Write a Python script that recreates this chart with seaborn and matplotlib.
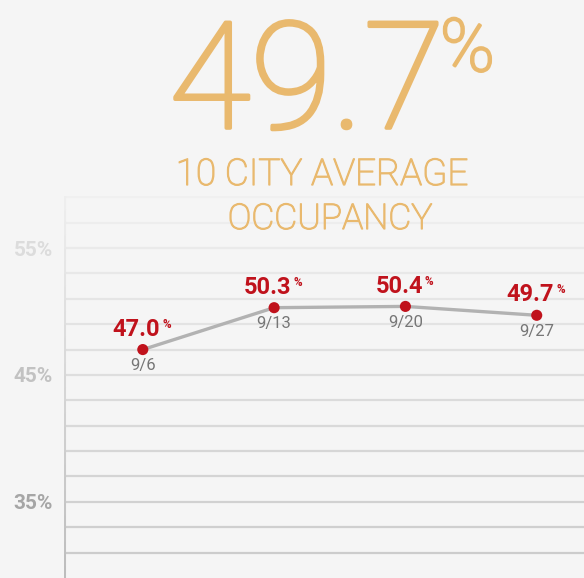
import numpy as np
import pandas as pd
import matplotlib
matplotlib.use("Agg")
import matplotlib.pyplot as plt
import matplotlib.patheffects as pe
import seaborn as sns

# data
weeks = ["9/6", "9/13", "9/20", "9/27"]
occupancy = [47.0, 50.3, 50.4, 49.7]
headline = "49.7"
subtitle_lines = ["10 CITY AVERAGE", "OCCUPANCY"]
tick_values = [35, 45, 55]
tick_labels = ["35%", "45%", "55%"]

df = pd.DataFrame({"week": weeks, "occupancy": occupancy})
df["pos"] = range(len(df))

sns.set_theme(style="white")
plt.rcParams["font.family"] = ["Roboto", "DejaVu Sans"]

bg = "#f5f5f5"
gold = "#e9b96e"
red = "#c0121c"
W, H = 584, 578

fig = plt.figure(figsize=(W / 100, H / 100), dpi=100, facecolor=bg)
ax = fig.add_axes([64 / W, 0.0, 1 - 64 / W, 1 - 196 / H])
ax.set_facecolor(bg)

ymin, ymax = 29.0, 59.1
ax.set_ylim(ymin, ymax)
ax.set_xlim(-0.6, 3.36)

# faded grid: lighter toward the top
for g in np.arange(31, 60, 2):
    t = (g - ymin) / (ymax - ymin)
    shade = 0.79 + 0.15 * t
    ax.axhline(g, color=(shade, shade, shade), lw=1.6, zorder=0)

# faded left axis line
n_seg = 30
for i in range(n_seg):
    t = i / n_seg
    shade = 0.74 + 0.20 * t
    ax.axvline(-0.6, ymin=t, ymax=t + 1 / n_seg, color=(shade, shade, shade),
               lw=2.2, zorder=0)

sns.lineplot(data=df, x="pos", y="occupancy", ax=ax, color="#b2b2b2", lw=2.4, zorder=2)
sns.scatterplot(data=df, x="pos", y="occupancy", ax=ax, color=red, s=64,
                edgecolor="none", zorder=3)

for _, row in df.iterrows():
    txt = ax.annotate(f"{row.occupancy:.1f}", (row.pos, row.occupancy),
                      xytext=(-4.5, 10), textcoords="offset points",
                      ha="center", va="baseline", color=red,
                      fontsize=17, fontweight="bold")
    ax.annotate("%", xy=(1, 1), xycoords=txt, xytext=(1.5, 0),
                textcoords="offset points", ha="left", va="top",
                color=red, fontsize=8.5, fontweight="bold")
    ax.annotate(row.week, (row.pos, row.occupancy), xytext=(0, -6),
                textcoords="offset points", ha="center", va="top",
                color="#767676", fontsize=12)

for s in ax.spines.values():
    s.set_visible(False)
ax.set_xticks([])
ax.set_yticks(tick_values)
ax.set_yticklabels(tick_labels, fontsize=15, fontweight="bold")
tick_colors = ["#a6a6a6", "#c2c2c2", "#dcdcdc"]
for lab, c in zip(ax.get_yticklabels(), tick_colors):
    lab.set_color(c)
ax.tick_params(axis="y", length=0, pad=8)
ax.set_xlabel("")
ax.set_ylabel("")

# headline: thin Roboto thickened with a stroke to look like the light cut
big_fx = [pe.withStroke(linewidth=2.6, foreground=gold)]
fig.text(307 / W, 1 - 128 / H, headline, ha="center", va="baseline",
         color=gold, fontsize=107, fontweight=100, path_effects=big_fx)
fig.text(440 / W, 1 - 15 / H, "%", ha="left", va="top",
         color=gold, fontsize=53, fontweight=100,
         path_effects=[pe.withStroke(linewidth=1.8, foreground=gold)])

sub_fx = [pe.withStroke(linewidth=0.9, foreground=gold)]
fig.text(322 / W, 1 - 185 / H, subtitle_lines[0], ha="center", va="baseline",
         color=gold, fontsize=26.5, fontweight=100, path_effects=sub_fx)
fig.text(330 / W, 1 - 229 / H, subtitle_lines[1], ha="center", va="baseline",
         color=gold, fontsize=25.5, fontweight=100, path_effects=sub_fx)

fig.savefig("out.png", dpi=100, facecolor=bg)
